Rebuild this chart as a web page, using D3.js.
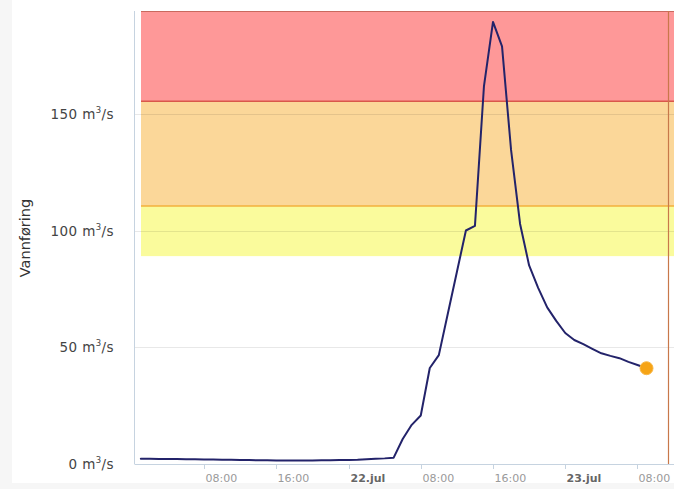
<!DOCTYPE html>
<html>
<head>
<meta charset="utf-8">
<script src="https://cdn.jsdelivr.net/npm/d3@7/dist/d3.min.js"></script>
<style>
  html, body { margin: 0; padding: 0; background: #ffffff; }
  svg { display: block; }
</style>
</head>
<body>
<svg id="chart" width="674" height="489"></svg>
<script>
// ---- data ----
const times = [
  "2014-07-21T01:00","2014-07-21T02:00","2014-07-21T03:00","2014-07-21T04:00","2014-07-21T05:00",
  "2014-07-21T06:00","2014-07-21T07:00","2014-07-21T08:00","2014-07-21T09:00","2014-07-21T10:00",
  "2014-07-21T11:00","2014-07-21T12:00","2014-07-21T13:00","2014-07-21T14:00","2014-07-21T15:00",
  "2014-07-21T16:00","2014-07-21T17:00","2014-07-21T18:00","2014-07-21T19:00","2014-07-21T20:00",
  "2014-07-21T21:00","2014-07-21T22:00","2014-07-21T23:00","2014-07-22T00:00","2014-07-22T01:00",
  "2014-07-22T02:00","2014-07-22T03:00","2014-07-22T04:00","2014-07-22T05:00","2014-07-22T06:00",
  "2014-07-22T07:00","2014-07-22T08:00","2014-07-22T09:00","2014-07-22T10:00","2014-07-22T11:00",
  "2014-07-22T12:00","2014-07-22T13:00","2014-07-22T14:00","2014-07-22T15:00","2014-07-22T16:00",
  "2014-07-22T17:00","2014-07-22T18:00","2014-07-22T19:00","2014-07-22T20:00","2014-07-22T21:00",
  "2014-07-22T22:00","2014-07-22T23:00","2014-07-23T00:00","2014-07-23T01:00","2014-07-23T02:00",
  "2014-07-23T03:00","2014-07-23T04:00","2014-07-23T05:00","2014-07-23T06:00","2014-07-23T07:00",
  "2014-07-23T08:00","2014-07-23T09:00"
];
const flow = [
  2.0, 2.0, 1.9, 1.9, 1.9, 1.8, 1.8, 1.7, 1.7, 1.6,
  1.6, 1.5, 1.5, 1.4, 1.4, 1.3, 1.3, 1.3, 1.3, 1.3,
  1.4, 1.4, 1.5, 1.5, 1.6, 1.8, 2.0, 2.2, 2.5, 10.5,
  16.6, 20.6, 41.0, 46.5, 64.4, 82.2, 100.0, 102.0, 162.0, 189.5,
  179.0, 134.6, 102.8, 85.0, 75.4, 67.0, 61.2, 56.0, 53.0, 51.2,
  49.2, 47.3, 46.2, 45.2, 43.6, 42.3, 40.9
];
const yTicks = [0, 50, 100, 150];
const xTickTimes = ["2014-07-21T08:00","2014-07-21T16:00","2014-07-22T00:00","2014-07-22T08:00",
                    "2014-07-22T16:00","2014-07-23T00:00","2014-07-23T08:00"];
const xTickLabels = ["08:00","16:00","22.jul","08:00","16:00","23.jul","08:00"];
const bandNames = ["yellow", "orange", "red"];
const bandFrom = [89, 110.5, 155.5];
const bandTo = [110.5, 155.5, 200];
const bandColors = ["#fafb9c", "#fbd799", "#fe9898"];
const bandBorders = [null, "#f3b13c", "#d9574b"];
const nowTime = "2014-07-23T11:24";
const yTitle = "Vannføring";

// ---- layout ----
const svg = d3.select("#chart");
const W = 674, H = 489;
const plotLeft = 141, plotRight = 674, plotTop = 11, plotBottom = 464;
const axisX = 134.5;

const parse = d3.utcParse("%Y-%m-%dT%H:%M");
const data = times.map((t, i) => ({ t: parse(t), v: flow[i] }));

const x = d3.scaleUtc()
  .domain([parse("2014-07-21T00:00"), parse("2014-07-23T12:00")])
  .range([131.8, 673.6]);
const y = d3.scaleLinear().domain([0, 150]).range([463.5, 114]);

// background strips
svg.append("rect").attr("x", 0).attr("y", 0).attr("width", W).attr("height", H).attr("fill", "#f6f6f6");
svg.append("rect").attr("x", 12).attr("y", 0).attr("width", W - 12).attr("height", 483).attr("fill", "#ffffff");

const defs = svg.append("defs");
defs.append("clipPath").attr("id", "plotclip")
  .append("rect").attr("x", plotLeft).attr("y", plotTop)
  .attr("width", plotRight - plotLeft).attr("height", plotBottom - plotTop);

const plot = svg.append("g").attr("clip-path", "url(#plotclip)");

// plot bands
bandNames.forEach((n, i) => {
  plot.append("rect")
    .attr("x", plotLeft).attr("width", plotRight - plotLeft)
    .attr("y", y(bandTo[i])).attr("height", y(bandFrom[i]) - y(bandTo[i]))
    .attr("fill", bandColors[i]);
});
// red band top border
svg.append("line").attr("x1", plotLeft).attr("x2", plotRight)
  .attr("y1", plotTop + 0.5).attr("y2", plotTop + 0.5)
  .attr("stroke", "#c9695e").attr("stroke-width", 1);

// grid lines
const grid = svg.append("g");
yTicks.filter(d => d > 0).forEach(d => {
  grid.append("line")
    .attr("x1", axisX).attr("x2", plotRight)
    .attr("y1", Math.round(y(d)) + 0.5).attr("y2", Math.round(y(d)) + 0.5)
    .attr("stroke", "#000").attr("stroke-opacity", 0.09).attr("stroke-width", 1);
});

// band borders
bandNames.forEach((n, i) => {
  if (!bandBorders[i]) return;
  svg.append("line")
    .attr("x1", plotLeft).attr("x2", plotRight)
    .attr("y1", y(bandFrom[i])).attr("y2", y(bandFrom[i]))
    .attr("stroke", bandBorders[i]).attr("stroke-width", 1.5);
});

// vertical "now" line
svg.append("line")
  .attr("x1", Math.round(x(parse(nowTime))) + 0.5).attr("x2", Math.round(x(parse(nowTime))) + 0.5)
  .attr("y1", plotTop).attr("y2", plotBottom)
  .attr("stroke", "#c8784a").attr("stroke-width", 1.2);

// axes lines
svg.append("line").attr("x1", axisX).attr("x2", axisX).attr("y1", plotTop).attr("y2", plotBottom)
  .attr("stroke", "#c6d3e0").attr("stroke-width", 1);
svg.append("line").attr("x1", axisX).attr("x2", plotRight).attr("y1", plotBottom + 0.5).attr("y2", plotBottom + 0.5)
  .attr("stroke", "#c6d3e0").attr("stroke-width", 1);

// y tick labels
const yLab = svg.append("g").attr("font-family", "DejaVu Sans, sans-serif").attr("font-size", 13.5)
  .attr("fill", "#444");
yTicks.forEach(d => {
  const t = yLab.append("text").attr("x", 114).attr("y", y(d) + 5)
    .attr("text-anchor", "end").attr("letter-spacing", "0.4px");
  t.append("tspan").text(d + " m");
  t.append("tspan").attr("font-size", 8.5).attr("dy", -6).text("3");
  t.append("tspan").attr("dy", 6).text("/s");
});

// y title
svg.append("text")
  .attr("transform", "translate(30,238) rotate(-90)")
  .attr("text-anchor", "middle")
  .attr("font-family", "DejaVu Sans, sans-serif").attr("font-size", 14.5)
  .attr("fill", "#333").text(yTitle);

// x ticks & labels
const xg = svg.append("g");
xTickTimes.forEach((s, i) => {
  const xx = Math.round(x(parse(s))) + 0.5;
  xg.append("line").attr("x1", xx).attr("x2", xx).attr("y1", plotBottom).attr("y2", plotBottom + 5)
    .attr("stroke", "#c6d3e0").attr("stroke-width", 1);
  const bold = xTickLabels[i].indexOf("jul") >= 0;
  xg.append("text").attr("x", xx + 1).attr("y", 482)
    .attr("font-family", "DejaVu Sans, sans-serif").attr("font-size", 11)
    .attr("font-weight", bold ? "bold" : "normal")
    .attr("fill", bold ? "#666" : "#9a9a9a")
    .text(xTickLabels[i]);
});

// series line
const line = d3.line().x(d => x(d.t)).y(d => y(d.v));
svg.append("path").datum(data).attr("d", line)
  .attr("fill", "none").attr("stroke", "#23236a").attr("stroke-width", 2)
  .attr("stroke-linejoin", "round").attr("stroke-linecap", "round");

// last point marker
const last = data[data.length - 1];
svg.append("circle").attr("cx", x(last.t)).attr("cy", y(last.v)).attr("r", 6.5)
  .attr("fill", "#f6a416").attr("stroke", "#f8b84a").attr("stroke-width", 1);
</script>
</body>
</html>
